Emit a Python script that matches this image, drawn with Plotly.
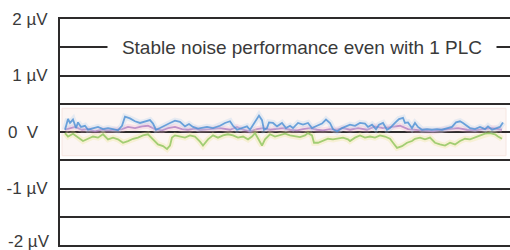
import plotly.graph_objects as go

# y tick labels (µV scale)
tick_vals = [-2, -1, 0, 1, 2]
tick_text = ["-2 µV", "-1 µV", "0\u00a0\u00a0V\u00a0\u00a0", "1 µV", "2 µV"]

annotation_text = "Stable noise performance even with 1 PLC"

# time samples and noise readings (µV)
blue_t = [5, 8, 10, 13, 16, 18, 21, 25, 28, 33, 38, 43, 48, 53, 58, 62, 65, 70, 75, 80, 85, 90, 93, 96,
          100, 105, 110, 115, 120, 125, 129, 133, 138, 147, 153, 160, 165, 170, 173, 177, 182, 187, 190,
          193, 197, 199, 202, 204, 207, 209, 213, 217, 222, 226, 230, 233, 238, 243, 248, 252, 257, 262,
          266, 270, 273, 277, 282, 287, 290, 295, 300, 305, 308, 312, 316, 319, 323, 327, 330, 335, 339,
          343, 345, 348, 352, 355, 358, 362, 367, 372, 377, 382, 387, 392, 396, 400, 403, 407, 410, 415,
          420, 425, 428, 432, 437, 440, 443]
blue_v = [0.04, 0.23, 0.16, 0.22, 0.07, 0.17, 0.09, 0.11, 0.04, 0.07, 0.09, 0.05, 0.07, 0.05, 0.03, 0.11,
          0.27, 0.24, 0.19, 0.16, 0.18, 0.21, 0.15, 0.04, 0.07, 0.12, 0.16, 0.20, 0.18, 0.10, 0.14, 0.09,
          0.06, 0.09, 0.07, 0.11, 0.16, 0.19, 0.11, 0.04, 0.07, 0.10, 0.04, 0.13, 0.23, 0.29, 0.21, 0.04,
          0.07, 0.17, 0.16, 0.10, 0.16, 0.07, 0.11, 0.07, 0.16, 0.13, 0.16, 0.07, 0.11, 0.15, 0.22, 0.16,
          0.05, 0.01, 0.07, 0.11, 0.13, 0.11, 0.16, 0.15, 0.09, 0.13, 0.05, 0.13, 0.16, 0.04, 0.07, 0.16,
          0.23, 0.25, 0.16, 0.17, 0.07, 0.16, 0.09, 0.04, 0.05, 0.04, 0.05, 0.04, 0.07, 0.09, 0.17, 0.19,
          0.16, 0.10, 0.07, 0.05, 0.09, 0.05, 0.10, 0.04, 0.07, 0.09, 0.17]

purple_t = [5, 10, 15, 22, 28, 35, 42, 48, 55, 62, 68, 75, 82, 88, 95, 102, 108, 115, 122, 128, 135, 140,
            150, 160, 170, 177, 183, 190, 197, 203, 210, 217, 223, 230, 237, 243, 250, 257, 263, 270, 277,
            283, 290, 298, 307, 315, 323, 332, 340, 348, 357, 365, 373, 382, 390, 398, 407, 415, 423, 432, 442]
purple_v = [0.04, 0.07, 0.09, 0.04, 0.05, 0.01, 0.04, 0.03, 0.04, 0.05, 0.09, 0.07, 0.10, 0.11, 0.05, 0.03,
            0.07, 0.09, 0.05, 0.04, 0.06, 0.04, 0.05, 0.07, 0.04, 0.09, 0.04, 0.01, 0.05, 0.07, 0.04, 0.05,
            0.07, 0.04, 0.03, 0.05, 0.07, 0.04, 0.03, 0.05, 0.04, 0.07, 0.04, 0.07, 0.04, 0.10, 0.07, 0.09,
            0.11, 0.05, 0.04, 0.03, 0.01, 0.04, 0.05, 0.07, 0.04, 0.03, 0.05, 0.07, 0.04]

green_t = [5, 8, 13, 18, 23, 28, 33, 38, 43, 48, 53, 58, 63, 68, 73, 78, 83, 88, 93, 98, 103, 107, 110, 112,
           115, 120, 125, 130, 135, 140, 143, 148, 153, 158, 163, 168, 173, 178, 183, 188, 192, 195, 198, 202,
           205, 210, 215, 220, 225, 230, 235, 240, 245, 248, 252, 254, 258, 263, 268, 273, 278, 283, 288, 290,
           295, 300, 305, 310, 315, 320, 325, 330, 333, 337, 342, 347, 352, 355, 360, 365, 370, 375, 380, 385,
           390, 395, 400, 405, 410, 415, 420, 425, 430, 435, 438, 442]
green_v = [-0.02, -0.08, -0.03, -0.10, -0.16, -0.12, -0.08, -0.10, -0.04, -0.13, -0.10, -0.13, -0.19, -0.16,
           -0.12, -0.10, -0.06, -0.04, -0.13, -0.22, -0.25, -0.30, -0.24, -0.10, -0.06, -0.08, -0.10, -0.06,
           -0.08, -0.17, -0.24, -0.13, -0.06, -0.10, -0.06, -0.04, -0.06, -0.10, -0.08, -0.13, -0.08, -0.02,
           -0.12, -0.24, -0.13, -0.04, -0.08, -0.06, -0.03, -0.06, -0.08, -0.09, -0.06, -0.02, -0.06, -0.19,
           -0.19, -0.16, -0.12, -0.13, -0.12, -0.10, -0.13, -0.16, -0.10, -0.06, -0.10, -0.08, -0.10, -0.06,
           -0.08, -0.12, -0.19, -0.28, -0.25, -0.19, -0.16, -0.12, -0.10, -0.13, -0.10, -0.19, -0.22, -0.24,
           -0.19, -0.22, -0.16, -0.12, -0.13, -0.10, -0.06, -0.03, -0.02, -0.04, -0.08, -0.12]

series = [
    (purple_t, purple_v, "#b07ec2", "#eeb0cc"),
    (green_t, green_v, "#8cc45a", "#ece68e"),
    (blue_t, blue_v, "#4a8fd4", "#b4d2f0"),
]

fig = go.Figure()
for t, v, col, halo in series:
    fig.add_trace(go.Scatter(x=t, y=v, mode="lines", line=dict(color=halo, width=6),
                             opacity=0.3, hoverinfo="skip", showlegend=False))
    fig.add_trace(go.Scatter(x=t, y=v, mode="lines", line=dict(color=col, width=1.8),
                             opacity=0.8, showlegend=False))

grid = "#2d2b2b"
font_family = "Liberation Sans, Arial, sans-serif"
fig.add_shape(type="rect", xref="x", yref="y", x0=2, x1=446, y0=-0.42, y1=0.42,
              fillcolor="#fcf5f3", line=dict(color="#f6e6e1", width=1), layer="below")

fig.add_annotation(text=annotation_text, xref="paper", yref="y", x=0.538, y=1.5,
                   showarrow=False, bgcolor="white", width=388, height=22, borderpad=0,
                   font=dict(family=font_family, size=19, color="#3a3a3a"))

# bottom tick label drawn as annotation, nudged up so it stays inside the page
fig.add_annotation(text=tick_text[0], xref="paper", yref="y", x=0, y=tick_vals[0],
                   xanchor="right", yanchor="middle", xshift=-8, yshift=4, showarrow=False,
                   font=dict(family=font_family, size=17, color="#3a3a3a"))

fig.update_layout(
    width=510, height=250,
    margin=dict(l=60, r=0, t=19, b=5),
    paper_bgcolor="white", plot_bgcolor="white",
    font=dict(family=font_family, size=17, color="#3a3a3a"),
    xaxis=dict(range=[0, 450], showgrid=False, zeroline=False, showticklabels=False, ticks="",
               showline=True, mirror=True, linecolor=grid, linewidth=2),
    yaxis=dict(range=[-2, 2], tickvals=tick_vals[1:], ticktext=tick_text[1:], showgrid=True,
               gridcolor=grid, gridwidth=2, zeroline=False, ticks="", ticklabelstandoff=7,
               automargin=False,
               showline=True, linecolor=grid, linewidth=2,
               minor=dict(dtick=0.5, showgrid=True, gridcolor=grid, gridwidth=2, ticks="")),
)

fig.write_html("out.html", config={"displayModeBar": False, "staticPlot": True},
               post_script="document.body.style.margin='0';document.body.style.overflow='hidden';")
